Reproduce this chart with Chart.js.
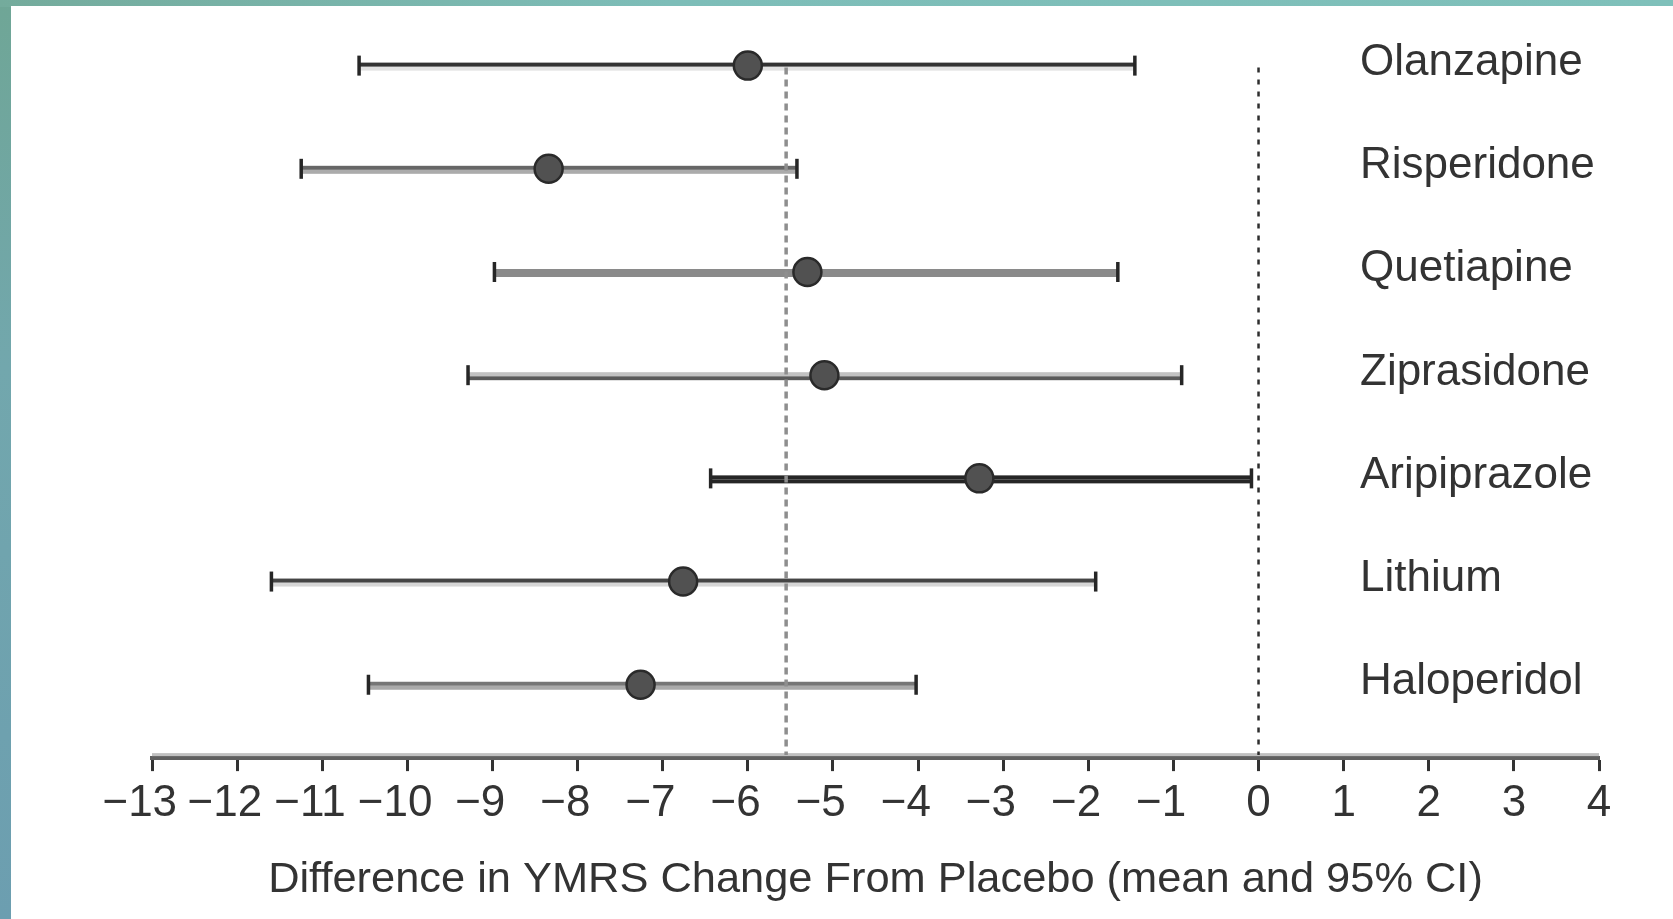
<!DOCTYPE html>
<html>
<head>
<meta charset="utf-8">
<script src="https://cdn.jsdelivr.net/npm/chart.js@4/dist/chart.umd.min.js"></script>
<style>
  html, body { margin: 0; padding: 0; }
  body {
    width: 1673px; height: 919px; position: relative; overflow: hidden;
    background: linear-gradient(180deg, #6fa696 0%, #72a7ad 40%, #6c9eb0 100%);
  }
  #topband {
    position: absolute; left: 0; top: 0; width: 1673px; height: 7px;
    background: linear-gradient(90deg, #74ab9c 0%, #7dbdb8 40%, #7fc0ba 100%);
  }
  #panel {
    position: absolute; left: 11px; top: 6px; width: 1662px; height: 913px; background: #ffffff;
  }
  #wrap { position: absolute; left: 0; top: 0; width: 1673px; height: 919px; }
</style>
</head>
<body>
<div id="topband"></div>
<div id="panel"></div>
<div id="wrap"><canvas id="c" width="1673" height="919"></canvas></div>
<script>
// ---- data ----
const drugs = ['Olanzapine', 'Risperidone', 'Quetiapine', 'Ziprasidone', 'Aripiprazole', 'Lithium', 'Haloperidol'];
const meanDiff = [-6.00, -8.34, -5.30, -5.10, -3.28, -6.76, -7.26];
const ciLower  = [-10.57, -11.25, -8.98, -9.29, -6.44, -11.60, -10.46];
const ciUpper  = [-1.45, -5.42, -1.65, -0.90, -0.08, -1.91, -4.02];
const pooledMean = -5.55;
const noEffect = 0;
const xTickValues = [-13, -12, -11, -10, -9, -8, -7, -6, -5, -4, -3, -2, -1, 0, 1, 2, 3, 4];
const xTickLabels = ['\u221213', '\u221212', '\u221211', '\u221210', '\u22129', '\u22128', '\u22127', '\u22126', '\u22125', '\u22124', '\u22123', '\u22122', '\u22121', '0', '1', '2', '3', '4'];
const xTitle = 'Difference in YMRS Change From Placebo (mean and 95% CI)';

// ---- styles ----
const FONT = '"Liberation Sans", Arial, Helvetica, sans-serif';
const TEXT = '#333333';
const barTop    = ['#333333', '#666666', '#8a8a8a', '#c2c2c2', '#262626', '#454545', '#767676'];
const barBottom = ['#e2e2e2', '#ababab', '#8a8a8a', '#5a5a5a', '#262626', '#d6d6d6', '#aaaaaa'];

const forestPlugin = {
  id: 'forest',
  beforeDatasetsDraw(chart) {
    const {ctx, chartArea, scales: {x, y}} = chart;
    ctx.save();
    // light band above the axis line
    ctx.fillStyle = '#c0c0c0';
    ctx.fillRect(chartArea.left, chartArea.bottom - 5, chartArea.right - chartArea.left, 3);
    // error bars
    drugs.forEach((d, i) => {
      const py = y.getPixelForValue(i);
      const x1 = x.getPixelForValue(ciLower[i]);
      const x2 = x.getPixelForValue(ciUpper[i]);
      ctx.fillStyle = barBottom[i];
      ctx.fillRect(x1, py + 1, x2 - x1, 4);
      ctx.fillStyle = barTop[i];
      ctx.fillRect(x1, py - 3, x2 - x1, 4);
      // caps
      ctx.fillStyle = '#262626';
      ctx.fillRect(x1 - 1.5, py - 10, 3.5, 20);
      ctx.fillRect(x2 - 2, py - 10, 3.5, 20);
    });
    // reference lines
    const yTop = y.getPixelForValue(0) + 2;
    const yBot = chartArea.bottom - 3;
    ctx.lineCap = 'butt';
    const xp = x.getPixelForValue(pooledMean);
    ctx.strokeStyle = '#8e8e8e';
    ctx.lineWidth = 3.5;
    ctx.setLineDash([7, 5]);
    ctx.beginPath(); ctx.moveTo(xp, yTop); ctx.lineTo(xp, yBot); ctx.stroke();
    const x0 = x.getPixelForValue(noEffect);
    ctx.strokeStyle = '#2e2e2e';
    ctx.lineWidth = 2.5;
    ctx.setLineDash([5, 7]);
    ctx.beginPath(); ctx.moveTo(x0, yTop); ctx.lineTo(x0, yBot); ctx.stroke();
    ctx.restore();
  },
  afterDatasetsDraw(chart) {
    const {ctx, scales: {y}} = chart;
    ctx.save();
    ctx.font = '44px ' + FONT;
    ctx.fillStyle = TEXT;
    ctx.textAlign = 'left';
    ctx.textBaseline = 'alphabetic';
    drugs.forEach((d, i) => {
      ctx.fillText(d, 1360, y.getPixelForValue(i) + 9.5);
    });
    ctx.restore();
  }
};

new Chart(document.getElementById('c'), {
  type: 'scatter',
  data: {
    datasets: [{
      data: drugs.map((d, i) => ({x: meanDiff[i], y: i})),
      pointRadius: 14,
      pointHoverRadius: 14,
      backgroundColor: '#515151',
      borderColor: '#2a2a2a',
      borderWidth: 2.5
    }]
  },
  options: {
    responsive: false,
    animation: false,
    events: [],
    layout: { padding: { left: 152, right: 74, top: 9.5, bottom: 10 } },
    plugins: { legend: { display: false }, tooltip: { enabled: false } },
    scales: {
      x: {
        type: 'linear',
        min: -13, max: 4,
        afterBuildTicks(scale) { scale.ticks = xTickValues.map(v => ({value: v})); },
        ticks: {
          autoSkip: false,
          maxRotation: 0,
          padding: 6,
          color: TEXT,
          font: { family: FONT, size: 44 },
          callback(value) {
            const k = xTickValues.indexOf(value);
            if (k < 0) return '';
            // digits centred under the tick, minus sign hanging to the left
            return value < 0 ? xTickLabels[k] + '\u00A0\u00A0' : xTickLabels[k];
          }
        },
        grid: { drawOnChartArea: false, drawTicks: true, tickLength: 13, tickWidth: 3, tickColor: '#333333' },
        border: { display: true, color: '#5f5f5f', width: 4 },
        title: {
          display: true, text: xTitle, color: TEXT,
          font: { family: FONT, size: 43.4 },
          padding: { top: 18, bottom: 3 }
        }
      },
      y: {
        type: 'linear', reverse: true, min: -0.476, max: 6.711, display: false
      }
    }
  },
  plugins: [forestPlugin]
});
</script>
</body>
</html>
